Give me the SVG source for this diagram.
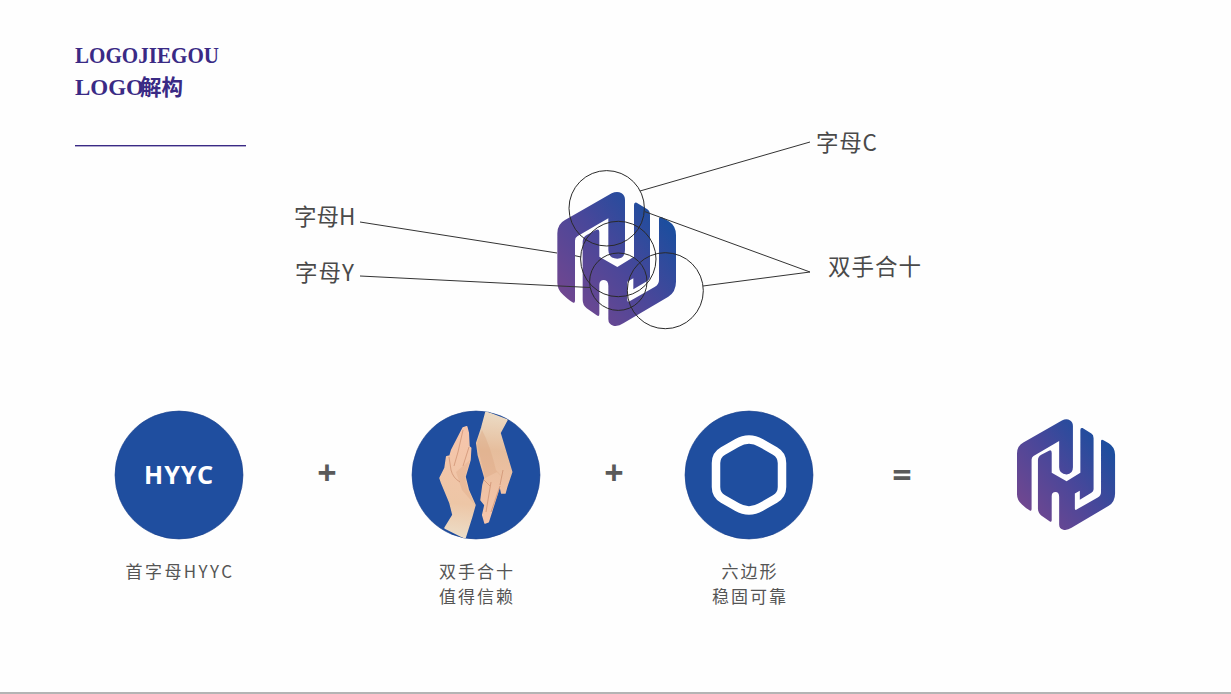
<svg xmlns="http://www.w3.org/2000/svg" width="1231" height="694" viewBox="0 0 1231 694">
<style>
.title{font-family:"Liberation Serif","Noto Sans CJK SC",serif;font-weight:700;font-size:23px;fill:#3a2a85}
.tcjk{font-family:"Noto Sans CJK SC",sans-serif;font-weight:700;font-size:21.5px;fill:#3a2a85}
.lab{font-family:"Noto Sans CJK SC",sans-serif;font-size:22.5px;fill:#4a4a4a}
.cap{font-family:"Noto Sans CJK SC",sans-serif;font-size:17px;letter-spacing:2px;fill:#555;text-anchor:middle}
.op{font-family:"Noto Sans",sans-serif;font-weight:700;font-size:34px;fill:#5a5a5a;text-anchor:middle}
.c{fill:#1f4e9f;stroke:#1a3f8c;stroke-width:.6}
.ring{fill:none;stroke:#2a2a2a;stroke-width:1}
.ln{stroke:#333;stroke-width:1;fill:none}
.fl{fill:none;stroke:#c98c6c;stroke-width:.8;opacity:.85}
.hand{stroke-linejoin:round;stroke-width:1.5}
</style>
<defs>
<linearGradient id="lg" gradientUnits="userSpaceOnUse" x1="60" y1="430" x2="400" y2="150">
<stop offset="0" stop-color="#74478f"/><stop offset=".5" stop-color="#48479a"/><stop offset="1" stop-color="#134f9f"/>
</linearGradient>
<linearGradient id="h1" gradientUnits="userSpaceOnUse" x1="450" y1="535" x2="462" y2="428">
<stop offset="0" stop-color="#ecdcc6"/><stop offset=".3" stop-color="#edc6a6"/><stop offset="1" stop-color="#f7c5ab"/>
</linearGradient>
<linearGradient id="h2" gradientUnits="userSpaceOnUse" x1="497" y1="412" x2="488" y2="523">
<stop offset="0" stop-color="#ecdcc6"/><stop offset=".35" stop-color="#e6bd9c"/><stop offset="1" stop-color="#f7c5ab"/>
</linearGradient>
<clipPath id="cc"><circle cx="476" cy="475" r="64"/></clipPath>
<g id="logo">
<g fill="url(#lg)">
<path d="M100 428Q88 422 70 405Q52 390 52 368V220Q52 192 75 180L215 100Q232 92 245 100Q255 106 255 120V270Q255 295 232 296Q205 295 205 270V175L112 229Q105 233 105 242V422Q105 430 100 428Z"/>
<path d="M282 135Q282 125 290 128L322 148Q330 153 330 165V350Q330 358 322 363L280 388V355L262 365V420Q262 428 270 423L345 380Q357 373 357 360V176Q357 168 366 172L385 183Q408 197 408 225V365Q408 395 385 410L250 490Q235 500 220 497Q205 493 205 478V378Q205 360 192 360Q178 360 178 375V462Q178 472 170 466L140 445Q128 435 128 420V245Q128 232 140 225L168 210Q178 205 178 218V290L232 321L282 290Z"/>
</g>
</g>
</defs>
<rect width="1231" height="694" fill="#fefefe"/>
<rect x="0" y="692" width="1231" height="2" fill="#b4b4b4"/>

<g id="title">
<text class="title" x="75" y="63" textLength="144" lengthAdjust="spacingAndGlyphs">LOGOJIEGOU</text>
<text class="title" x="75" y="95">LOGO</text>
<text class="tcjk" x="140" y="95">解构</text>
<rect x="75" y="145" width="171" height="1.4" fill="#3a2a85"/>
</g>

<g id="logo-main"><use href="#logo" transform="translate(540 160) scale(.33333)"/></g>

<g id="connectors">
<line class="ln" x1="640" y1="191" x2="810" y2="142"/>
<line class="ln" x1="645" y1="211.7" x2="810" y2="272"/>
<line class="ln" x1="703" y1="286" x2="810" y2="272"/>
<line class="ln" x1="360" y1="222" x2="557" y2="253"/>
<line class="ln" x1="575" y1="255.7" x2="581" y2="257"/>
<line class="ln" x1="360" y1="276" x2="590" y2="287.5"/>
</g>

<g id="rings">
<circle class="ring" cx="606.7" cy="208.3" r="37.7"/>
<circle class="ring" cx="618.3" cy="259" r="37.7"/>
<circle class="ring" cx="618.3" cy="281.7" r="28.7"/>
<circle class="ring" cx="665.3" cy="290.7" r="38"/>
</g>

<g id="label-c"><text class="lab" x="816" y="151" letter-spacing=".8">字母C</text></g>
<g id="label-h"><text class="lab" x="294" y="225">字母H</text></g>
<g id="label-y"><text class="lab" x="295" y="281" letter-spacing="1">字母Y</text></g>
<g id="label-hands"><text class="lab" x="828" y="275" letter-spacing="1">双手合十</text></g>

<g id="node-hyyc">
<circle class="c" cx="179" cy="475" r="64"/>
<text x="179" y="484" text-anchor="middle" font-family="Noto Sans,sans-serif" font-weight="700" font-size="25" letter-spacing="1" fill="#fff">HYYC</text>
<text class="cap" x="180" y="578" style="letter-spacing:2.4px">首字母HYYC</text>
</g>
<text class="op" x="327" y="485">+</text>

<g id="node-hands">
<circle class="c" cx="476" cy="475" r="64"/>
<g clip-path="url(#cc)">
<path class="hand" fill="url(#h1)" stroke="url(#h1)" d="M445 528L453 515L450 503L441.7 483L440 478L445 468L446.7 456.7L450 456L451.7 450L463 428L466.7 426.7L468.3 433L469 446.7L470.7 448L470 460L465 476.7L468.3 490L475 505L471.7 516.7L465 538Z"/>
<path class="hand" fill="url(#h2)" stroke="url(#h2)" d="M486 412L507 420L500 433L506 453L511.7 472L506.7 486.7L505 493L501.7 493L500 485L488.3 521.7L485 523L482.7 515L485 505L481 500L483 485L485 478L478.3 455L476.7 443L481.7 428Z"/>
<path fill="#d9a27f" opacity=".35" d="M477 443L482 430Q490 445 496 470L505 480L497 472L485 478Z"/>
<path fill="#d9a27f" opacity=".3" d="M470 460L465 477L468 490L475 505L462 490L456 472Z"/>
<path class="fl" d="M463 430L458 452L454 466M469 447L463 466M449 457L451 470Q453 478 460 482M500 486L491 512M491 482L486 512M484 480L490 486M503 470L500 485"/>
</g>
<text class="cap" x="477" y="578">双手合十</text>
<text class="cap" x="477" y="603">值得信赖</text>
</g>
<text class="op" x="614" y="485">+</text>

<g id="node-hex">
<circle class="c" cx="749" cy="475" r="64"/>
<path fill="none" stroke="#fff" stroke-width="8.5" d="M737 443Q749 436 761 443L775 451Q782 455 782 463V487Q782 495 775 499L761 507Q749 514 737 507L723 499Q716 495 716 487V463Q716 455 723 451Z"/>
<text class="cap" x="750" y="578">六边形</text>
<text class="cap" x="750" y="603">稳固可靠</text>
</g>
<text class="op" x="902" y="487">=</text>

<g id="node-result"><use href="#logo" transform="translate(1017 419) scale(.2755) translate(-52 -95)"/></g>
</svg>
